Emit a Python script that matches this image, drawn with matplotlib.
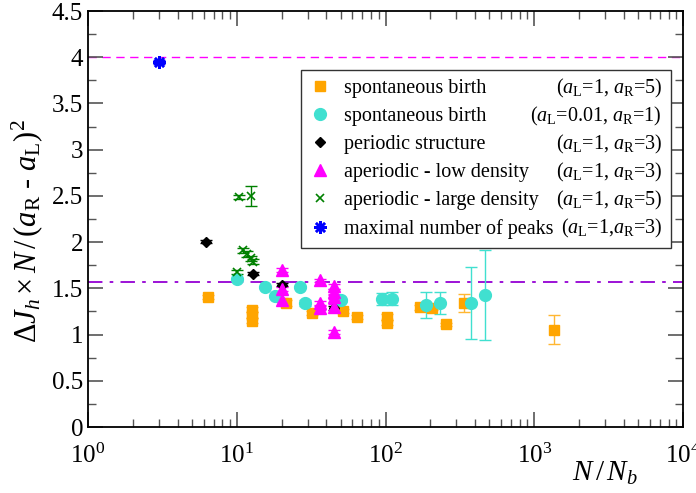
import numpy as np
import matplotlib
matplotlib.use("Agg")
import matplotlib.pyplot as plt
import matplotlib.transforms as mtransforms
from matplotlib.ticker import LogLocator, MultipleLocator, NullFormatter

plt.rcParams["font.family"] = ["Liberation Serif", "DejaVu Serif"]
plt.rcParams["mathtext.fontset"] = "custom"
plt.rcParams["mathtext.rm"] = "Liberation Serif"
plt.rcParams["mathtext.it"] = "Liberation Serif:italic"
plt.rcParams["mathtext.bf"] = "Liberation Serif:bold"

# spontaneous birth, a_L=1, a_R=5
birth15_x = [6.4, 12.7, 12.7, 12.7, 21.4, 31.9, 52, 64, 103, 103, 171, 204, 255, 337, 1365]
birth15_y = [1.41, 1.27, 1.21, 1.15, 1.34, 1.23, 1.255, 1.19, 1.19, 1.13, 1.295, 1.285, 1.11, 1.34, 1.05]
birth15_err = [0.02, 0.03, 0.03, 0.03, 0.03, 0.02, 0.02, 0.02, 0.03, 0.03, 0.03, 0.02, 0.02, 0.10, 0.157]

# spontaneous birth, a_L=0.01, a_R=1
birth001_x = [10, 15.5, 18.1, 26.6, 28.8, 50, 94, 111, 187, 234, 376, 469]
birth001_y = [1.60, 1.51, 1.42, 1.51, 1.34, 1.37, 1.385, 1.39, 1.32, 1.345, 1.34, 1.43]
birth001_err = [0.01, 0.01, 0.01, 0.01, 0.03, 0.02, 0.06, 0.07, 0.14, 0.12, 0.39, 0.49]

# periodic structure, a_L=1, a_R=3
periodic_x = [6.2, 12.9, 20, 45]
periodic_y = [2.005, 1.66, 1.54, 1.285]
periodic_err = [0.02, 0.02, 0.02, 0.02]

# aperiodic - low density, a_L=1, a_R=3
lowdens_x = [20, 20, 20, 36.3, 36.3, 36.3, 45, 45, 45, 45, 45]
lowdens_y = [1.70, 1.49, 1.375, 1.585, 1.34, 1.29, 1.52, 1.46, 1.41, 1.30, 1.03]
lowdens_err = [0.02, 0.02, 0.02, 0.02, 0.02, 0.02, 0.03, 0.03, 0.03, 0.03, 0.02]

# aperiodic - large density, a_L=1, a_R=5
largedens_x = [10.4, 12.4, 11.0, 11.8, 12.4, 12.8, 10.0]
largedens_y = [2.485, 2.50, 1.91, 1.87, 1.825, 1.79, 1.675]
largedens_err = [0.02, 0.11, 0.03, 0.03, 0.03, 0.03, 0.02]

# maximal number of peaks, a_L=1, a_R=3
maxpeaks_x = [3.0]
maxpeaks_y = [3.95]
maxpeaks_err = [0.02]

ref_upper = 4.0
ref_lower = 1.57

series_labels = [
    "spontaneous birth",
    "spontaneous birth",
    "periodic structure",
    "aperiodic - low density",
    "aperiodic - large density",
    "maximal number of peaks",
]
series_params = [
    r"($a_\mathrm{L}$=1, $a_\mathrm{R}$=5)",
    r"($a_\mathrm{L}$=0.01, $a_\mathrm{R}$=1)",
    r"($a_\mathrm{L}$=1, $a_\mathrm{R}$=3)",
    r"($a_\mathrm{L}$=1, $a_\mathrm{R}$=3)",
    r"($a_\mathrm{L}$=1, $a_\mathrm{R}$=5)",
    r"($a_\mathrm{L}$=1,$a_\mathrm{R}$=3)",
]

fig = plt.figure(figsize=(6.96, 4.93), dpi=100)
ax = fig.add_axes([88 / 696, 1 - 427 / 493, 595 / 696, 416 / 493])

ax.axhline(ref_upper, color="#ff00ff", lw=1.0, ls=(0, (6, 4)), zorder=1)
ax.axhline(ref_lower, color="#9400d3", lw=1.3, ls=(0, (8, 4, 2, 4)), zorder=1)

styles = [
    (birth15_x, birth15_y, birth15_err, dict(marker="s", color="#ffa500", ms=6.5, ecolor="#ffb732")),
    (birth001_x, birth001_y, birth001_err, dict(marker="o", color="#40e0d0", ms=8.5, ecolor="#40e0d0")),
    (periodic_x, periodic_y, periodic_err, dict(marker="D", color="black", ms=5.5, ecolor="black")),
    (lowdens_x, lowdens_y, lowdens_err, dict(marker="^", color="#ff00ff", ms=8, ecolor="#ff00ff")),
    (largedens_x, largedens_y, largedens_err, dict(marker="x", color="#008000", ms=6, mew=1.2, ecolor="#008000")),
    (maxpeaks_x, maxpeaks_y, maxpeaks_err, dict(marker=(8, 2, 0), color="#0000ff", ms=9, mew=1.8, ecolor="#0000ff")),
]

handles = []
for x, y, e, st in styles:
    st = dict(st)
    ecolor = st.pop("ecolor")
    ax.errorbar(x, y, yerr=e, fmt="none", ecolor=ecolor, elinewidth=1.0, capsize=4.5, capthick=1.0, zorder=2)
    h, = ax.plot(x, y, ls="none", zorder=3, **st)
    handles.append(h)

ax.set_xscale("log")
ax.set_xlim(1, 1e4)
ax.set_ylim(0, 4.5)
ax.xaxis.set_major_locator(LogLocator(base=10, numticks=10))
ax.xaxis.set_minor_locator(LogLocator(base=10, subs=np.arange(2, 10), numticks=20))
ax.xaxis.set_minor_formatter(NullFormatter())
ax.yaxis.set_major_locator(MultipleLocator(0.5))
ax.yaxis.set_minor_locator(MultipleLocator(0.25))
ax.yaxis.set_major_formatter(matplotlib.ticker.FuncFormatter(lambda v, p: f"{v:g}"))

ax.tick_params(which="both", direction="in", top=True, right=True, colors="#555555",
               labelcolor="black", labelsize=18)
ax.tick_params(which="major", length=11, width=1.2)
ax.tick_params(which="minor", length=6, width=1.0)
ax.tick_params(axis="x", pad=12)
for s in ax.spines.values():
    s.set_linewidth(1.3)

ax.set_ylabel(r"$\Delta J_h \times N\,/\,(a_\mathrm{R}$ - $a_\mathrm{L})^2$", fontsize=22)
ax.yaxis.set_label_coords(-0.072, 0.47)
ax.text(0.869, -0.078, r"$N\,/\,N_b$", transform=ax.transAxes, fontsize=21, ha="center", va="top")

x0 = (301 - 88) / 595
x1 = (671 - 88) / 595
ytop = (427 - 70) / 416
leg = ax.legend(handles, series_labels, loc="upper left", bbox_to_anchor=(x0, ytop - 0.5, x1 - x0, 0.5),
                mode="expand", fontsize=14.5, frameon=True, fancybox=False, framealpha=1,
                edgecolor="#333333", borderpad=0.45, handlelength=1.0, handletextpad=0.7,
                labelspacing=0.44, borderaxespad=0, numpoints=1)
leg.get_frame().set_linewidth(1.0)

fig.canvas.draw()
frame_box = leg.get_frame().get_window_extent()
for t, s in zip(leg.get_texts(), series_params):
    bx, by = t.get_transform().transform(t.get_position())
    fig.text(frame_box.x1 - 9, by, s, transform=mtransforms.IdentityTransform(),
             ha="right", va="baseline", fontsize=14.5)

fig.savefig("out.png", dpi=100)
